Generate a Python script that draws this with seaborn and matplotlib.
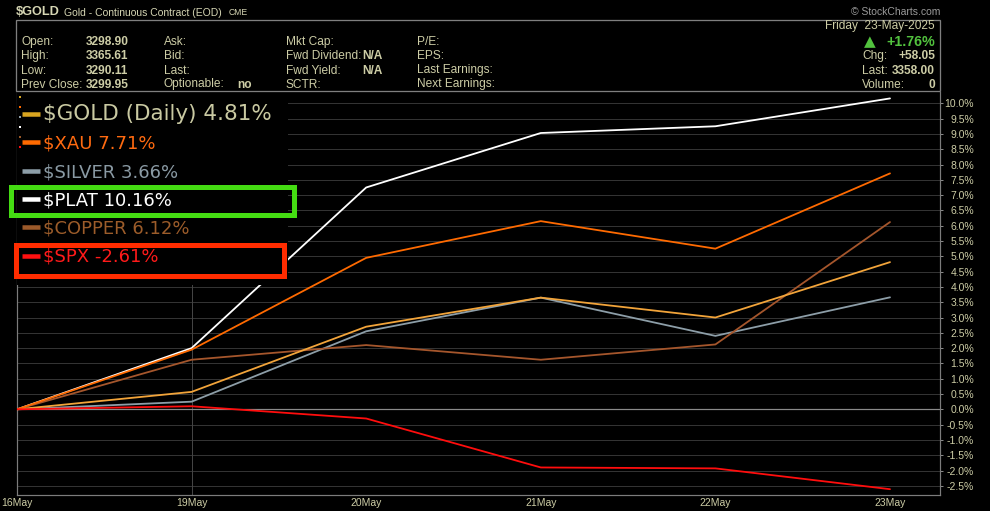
import matplotlib
matplotlib.use("Agg")
import matplotlib.pyplot as plt
import seaborn as sns
import pandas as pd
import numpy as np
from matplotlib.patches import Rectangle
from matplotlib.lines import Line2D
from matplotlib import font_manager
from matplotlib.font_manager import FontProperties

# ---------------- data ----------------
dates = ["16May", "19May", "20May", "21May", "22May", "23May"]
symbols = ["$GOLD", "$XAU", "$SILVER", "$PLAT", "$COPPER", "$SPX"]
legend_names = ["$GOLD (Daily)", "$XAU", "$SILVER", "$PLAT", "$COPPER", "$SPX"]
gold = [0.0, 0.57, 2.70, 3.65, 3.00, 4.81]
xau = [0.0, 1.95, 4.95, 6.15, 5.25, 7.71]
silver = [0.0, 0.25, 2.55, 3.65, 2.40, 3.66]
plat = [0.0, 2.00, 7.25, 9.03, 9.25, 10.16]
copper = [0.0, 1.62, 2.10, 1.62, 2.12, 6.12]
spx = [0.0, 0.10, -0.30, -1.90, -1.93, -2.61]
ytick_values = [-2.5, -2.0, -1.5, -1.0, -0.5, 0.0, 0.5, 1.0, 1.5, 2.0, 2.5, 3.0,
                3.5, 4.0, 4.5, 5.0, 5.5, 6.0, 6.5, 7.0, 7.5, 8.0, 8.5, 9.0, 9.5, 10.0]
ytick_labels = [f"{v:.1f}%" for v in ytick_values]

hdr_col1_labels = ["Open:", "High:", "Low:", "Prev Close:"]
hdr_col1_values = ["3298.90", "3365.61", "3290.11", "3299.95"]
hdr_col2_labels = ["Ask:", "Bid:", "Last:", "Optionable:"]
hdr_col3_labels = ["Mkt Cap:", "Fwd Dividend:", "Fwd Yield:", "SCTR:"]
hdr_col4_labels = ["P/E:", "EPS:", "Last Earnings:", "Next Earnings:"]

series = {"$GOLD": gold, "$XAU": xau, "$SILVER": silver, "$PLAT": plat,
          "$COPPER": copper, "$SPX": spx}
rows = []
for sym in symbols:
    for i, d in enumerate(dates):
        rows.append({"idx": i, "date": d, "pct": series[sym][i], "symbol": sym})
df = pd.DataFrame(rows)

line_colors = {"$GOLD": "#f2a43a", "$XAU": "#ff6a00", "$SILVER": "#8d9ea8",
               "$PLAT": "#ffffff", "$COPPER": "#a5562c", "$SPX": "#ff0d0d"}
marker_colors = {"$GOLD": "#d9a520", "$XAU": "#ff6a00", "$SILVER": "#8d9ea8",
                 "$PLAT": "#ffffff", "$COPPER": "#9c5a2a", "$SPX": "#ff1010"}
text_colors = {"$GOLD": "#c9c9a2", "$XAU": "#ff6a10", "$SILVER": "#8a9aa4",
               "$PLAT": "#ffffff", "$COPPER": "#9c5c2a", "$SPX": "#ff1a1a"}

KHAKI = "#cdcda6"

# ---------------- figure ----------------
sns.set_theme(style="dark")
plt.rcParams["font.family"] = ["Liberation Sans", "DejaVu Sans"]

W, H = 990, 511
DPI = 100
fig = plt.figure(figsize=(W / DPI, H / DPI), dpi=DPI, facecolor="black")


def fx(x):
    return x / W


def fy(y):
    return 1 - y / H


PX = 72.0 / DPI  # points per pixel

ax_left, ax_right, ax_top, ax_bottom = 17, 940, 92, 495
ax = fig.add_axes([fx(ax_left), fy(ax_bottom), (ax_right - ax_left) / W,
                   (ax_bottom - ax_top) / H])
ax.set_facecolor("black")

hue_order = ["$PLAT", "$SILVER", "$COPPER", "$GOLD", "$XAU", "$SPX"]
sns.lineplot(data=df, x="idx", y="pct", hue="symbol", hue_order=hue_order,
             palette=line_colors, legend=False, ax=ax, linewidth=1.3,
             sort=False, zorder=3)

ax.set_xlim(0, 5 + 50 / 174.6)
ax.set_ylim(-2.80, 10.37)

ax.set_yticks(ytick_values, labels=ytick_labels)
ax.yaxis.tick_right()
ax.tick_params(axis="y", which="both", right=True, left=False, length=3 * PX,
               width=1 * PX, color="#888888", labelcolor=KHAKI, labelsize=7.5,
               pad=31 * PX)
for lab in ax.get_yticklabels():
    lab.set_horizontalalignment("right")

ax.set_xticks(range(len(dates)), labels=dates)
ax.tick_params(axis="x", length=0, pad=2, labelcolor=KHAKI, labelsize=7.5)
ax.set_xlabel("")
ax.set_ylabel("")

ax.yaxis.grid(True, color="#333333", linewidth=1 * PX * 1.0)
ax.xaxis.grid(False)
ax.axhline(0, color="#8a8a8a", linewidth=1 * PX * 1.2, zorder=2)
ax.axvline(1, color="#444444", linewidth=1 * PX, zorder=1.5)

for side in ["left", "right", "bottom"]:
    ax.spines[side].set_visible(True)
    ax.spines[side].set_color("#7c7c7c")
    ax.spines[side].set_linewidth(1.2 * PX)
ax.spines["top"].set_visible(False)

# ---------------- legend panel ----------------
panel = Rectangle((fx(17), fy(285)), (288 - 17) / W, (285 - 92) / H,
                  transform=fig.transFigure, facecolor="black",
                  edgecolor="none", zorder=10, clip_on=False)
ax.add_patch(panel)

names = {f.name for f in font_manager.fontManager.ttflist}
if "Liberation Sans Narrow" in names:
    leg_family, leg_size, first_size = "Liberation Sans Narrow", 15, 17.5
else:
    leg_family, leg_size, first_size = "DejaVu Sans", 13, 15.5
leg_prop = FontProperties(family=leg_family, size=leg_size)
leg_fs_px = leg_size / PX

handles = [Line2D([0], [0], color=marker_colors[s], linewidth=4.5 * PX,
                  solid_capstyle="butt") for s in symbols]
labels = [f"{n} {series[s][-1]:.2f}%" for n, s in zip(legend_names, symbols)]
leg = ax.legend(handles, labels, loc="upper left",
                bbox_to_anchor=(fx(22), fy(104.5)), bbox_transform=fig.transFigure,
                frameon=False, prop=leg_prop, borderpad=0, borderaxespad=0,
                handlelength=18 / leg_fs_px, handletextpad=3 / leg_fs_px,
                labelspacing=0.57)
leg.set_zorder(12)
for t, s in zip(leg.get_texts(), symbols):
    t.set_color(text_colors[s])
leg.get_texts()[0].set_fontsize(first_size)

# small colour squares at the left of the legend panel
for k, s in enumerate(symbols):
    sq = Rectangle((fx(19), fy(98 + 10 * k)), 2 / W, 2 / H,
                   transform=fig.transFigure, facecolor=marker_colors[s],
                   edgecolor="none", zorder=13, clip_on=False)
    ax.add_patch(sq)

# annotation boxes
green_box = Rectangle((fx(10.5), fy(214.5)), (294 - 10.5) / W, (214.5 - 186.5) / H,
                      transform=fig.transFigure, facecolor="none",
                      edgecolor="#44dc12", linewidth=5 * PX, zorder=14,
                      clip_on=False)
red_box = Rectangle((fx(16), fy(276)), (284 - 16) / W, (276 - 245) / H,
                    transform=fig.transFigure, facecolor="none",
                    edgecolor="#ff2c00", linewidth=5 * PX, zorder=14,
                    clip_on=False)
ax.add_patch(green_box)
ax.add_patch(red_box)

# ---------------- header ----------------
hdr_box = Rectangle((fx(16), fy(91)), (940 - 16) / W, (91 - 20) / H,
                    transform=fig.transFigure, facecolor="none",
                    edgecolor="#7f7f7f", linewidth=1.3 * PX)
fig.add_artist(hdr_box)

fig.text(fx(16), fy(12), "$GOLD", fontsize=9.2, fontweight="bold",
         color="#d6d6b4", va="center", ha="left")
fig.text(fx(64), fy(12.5), "Gold - Continuous Contract (EOD)", fontsize=7.5,
         color="#d6d6b4", va="center", ha="left")
fig.text(fx(229), fy(12.5), "CME", fontsize=6.2, color="#d6d6b4",
         va="center", ha="left")
fig.text(fx(940), fy(12), "© StockCharts.com", fontsize=7.5, color="#9a9a9a",
         va="center", ha="right")

row_y = [42, 56, 70.5, 84.5]
fs_hdr = 8.6
for k, yy in enumerate(row_y):
    fig.text(fx(21), fy(yy), hdr_col1_labels[k], fontsize=fs_hdr, color=KHAKI,
             va="center", ha="left")
    fig.text(fx(86), fy(yy), hdr_col1_values[k], fontsize=fs_hdr, color=KHAKI,
             va="center", ha="left", fontweight="bold")
    fig.text(fx(164), fy(yy), hdr_col2_labels[k], fontsize=fs_hdr, color=KHAKI,
             va="center", ha="left")
    fig.text(fx(286), fy(yy), hdr_col3_labels[k], fontsize=fs_hdr, color=KHAKI,
             va="center", ha="left")
    fig.text(fx(417), fy(yy), hdr_col4_labels[k], fontsize=fs_hdr, color=KHAKI,
             va="center", ha="left")
fig.text(fx(237), fy(row_y[3]), "no", fontsize=fs_hdr, color=KHAKI,
         va="center", ha="left", fontweight="bold")
fig.text(fx(383), fy(row_y[1]), "N/A", fontsize=fs_hdr, color=KHAKI,
         va="center", ha="right", fontweight="bold")
fig.text(fx(383), fy(row_y[2]), "N/A", fontsize=fs_hdr, color=KHAKI,
         va="center", ha="right", fontweight="bold")

# right block
fig.text(fx(935), fy(26.5), "Friday  23-May-2025", fontsize=fs_hdr, color=KHAKI,
         va="center", ha="right")
fig.text(fx(935), fy(41.5), "+1.76%", fontsize=10.3, color="#52c23e",
         va="center", ha="right", fontweight="bold")
fig.text(fx(870), fy(41.5), "▲", fontsize=11, color="#52c23e", va="center",
         ha="center", family="DejaVu Sans")
fig.text(fx(862), fy(56), "Chg:", fontsize=fs_hdr, color=KHAKI,
         va="center", ha="left")
fig.text(fx(935), fy(56), "+58.05", fontsize=fs_hdr, color=KHAKI,
         va="center", ha="right", fontweight="bold")
fig.text(fx(862), fy(70.5), "Last:", fontsize=fs_hdr, color=KHAKI,
         va="center", ha="left")
fig.text(fx(935), fy(70.5), "3358.00", fontsize=fs_hdr, color=KHAKI,
         va="center", ha="right", fontweight="bold")
fig.text(fx(862), fy(84.5), "Volume:", fontsize=fs_hdr, color=KHAKI,
         va="center", ha="left")
fig.text(fx(935), fy(84.5), "0", fontsize=fs_hdr, color=KHAKI,
         va="center", ha="right", fontweight="bold")

fig.savefig("out.png", dpi=DPI, facecolor="black")
